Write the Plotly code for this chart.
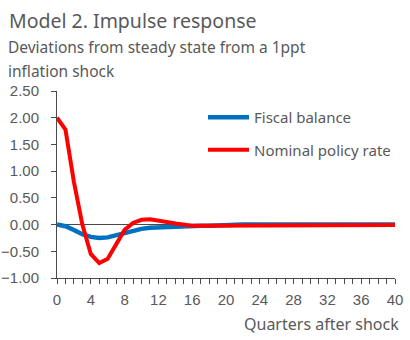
import plotly.graph_objects as go

quarters = list(range(0, 41))
policy_rate = [2.00, 1.78, 0.80, 0.00, -0.55, -0.72, -0.64, -0.38, -0.10, 0.03,
               0.09, 0.10, 0.08, 0.05, 0.02, 0.00, -0.02, -0.02, -0.02, -0.02,
               -0.01, -0.01, -0.01, -0.01, -0.01, -0.01, -0.01, -0.01, -0.01, -0.01,
               -0.01, -0.01, -0.01, -0.01, -0.01, -0.01, -0.01, -0.01, -0.01, -0.01, -0.01]
fiscal_balance = [0.00, -0.03, -0.10, -0.18, -0.23, -0.25, -0.24, -0.20, -0.16, -0.11,
                  -0.08, -0.06, -0.05, -0.04, -0.04, -0.03, -0.03, -0.02, -0.02, -0.01,
                  0.00, 0.00, 0.00, 0.00, 0.00, 0.00, 0.00, 0.00, 0.00, 0.00,
                  0.00, 0.00, 0.00, 0.00, 0.00, 0.00, 0.00, 0.00, 0.00, 0.00, 0.00]
x_tick_labels = [str(q) if q % 4 == 0 else "" for q in quarters]
y_ticks = [-1.0, -0.5, 0.0, 0.5, 1.0, 1.5, 2.0, 2.5]

GRAY = "#595959"
AXIS = "#4a4a4a"
W, H = 410, 340
ML, MR, MT, MB = 57, 15, 91, 62
pw, ph = W - ML - MR, H - MT - MB
def px(x): return (x - ML) / pw
def py(y): return (H - MB - y) / ph

fig = go.Figure()
fig.add_trace(go.Scatter(x=quarters, y=fiscal_balance, mode="lines", name="Fiscal balance",
                         legendgroup="a", line=dict(color="#0070C0", width=4.5)))
fig.add_trace(go.Scatter(x=quarters, y=policy_rate, mode="lines", name="Nominal policy rate",
                         legendgroup="b", line=dict(color="#FF0000", width=4)))

fig.update_layout(
    template="none",
    width=W, height=H,
    margin=dict(l=ML, r=MR, t=MT, b=MB, autoexpand=False),
    paper_bgcolor="white", plot_bgcolor="white",
    font=dict(family="Liberation Sans, Arial, sans-serif", color=GRAY, size=15),
    showlegend=True,
    legend=dict(x=px(203), y=py(101), xanchor="left", yanchor="top",
                font=dict(family="Noto Sans, sans-serif", size=15, color=GRAY),
                tracegroupgap=10, itemwidth=41, bgcolor="rgba(0,0,0,0)",
                traceorder="grouped"),
    annotations=[
        dict(text="Model 2. Impulse response", x=px(7), y=py(5), xref="paper", yref="paper",
             xanchor="left", yanchor="top", showarrow=False,
             font=dict(family="Noto Sans, sans-serif", size=19.5, color=GRAY)),
        dict(text="Deviations from steady state from a 1ppt", x=px(6), y=py(34), xref="paper", yref="paper",
             xanchor="left", yanchor="top", showarrow=False,
             font=dict(family="Noto Sans, sans-serif", size=15.5, color=GRAY)),
        dict(text="inflation shock", x=px(6), y=py(58), xref="paper", yref="paper",
             xanchor="left", yanchor="top", showarrow=False,
             font=dict(family="Noto Sans, sans-serif", size=15.5, color=GRAY)),
        dict(text="Quarters after shock", x=px(401), y=py(311), xref="paper", yref="paper",
             xanchor="right", yanchor="top", showarrow=False,
             font=dict(family="Noto Sans, sans-serif", size=16, color=GRAY)),
    ],
)

fig.update_xaxes(range=[0, 40], tickmode="array", tickvals=quarters, ticktext=x_tick_labels,
                 ticks="outside", ticklen=5, tickcolor=AXIS, tickwidth=1,
                 showline=True, linecolor=AXIS, linewidth=1,
                 showgrid=False, zeroline=False, automargin=False,
                 ticklabelstandoff=3,
                 tickfont=dict(size=15, color=GRAY))
fig.update_yaxes(range=[-1.0, 2.5], tickvals=y_ticks, tickformat=".2f",
                 ticks="outside", ticklen=5, tickcolor=AXIS, tickwidth=1,
                 showline=True, linecolor=AXIS, linewidth=1,
                 showgrid=False, zeroline=True, zerolinecolor=AXIS, zerolinewidth=1,
                 ticklabelstandoff=9, automargin=False,
                 tickfont=dict(size=15, color=GRAY))

fig.write_html("out.html")
